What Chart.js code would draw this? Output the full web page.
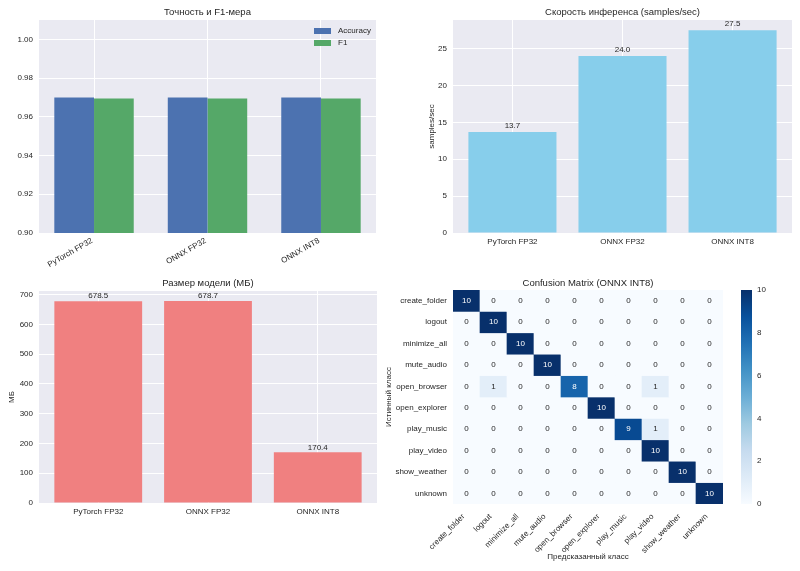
<!DOCTYPE html>
<html>
<head>
<meta charset="utf-8">
<script src="https://cdn.jsdelivr.net/npm/chart.js@4.4.1/dist/chart.umd.min.js"></script>
<style>
html,body{margin:0;padding:0;background:#fff;width:800px;height:571px;overflow:hidden;}
.box{position:absolute;}
</style>
</head>
<body>
<div class="box" style="left:0;top:0;width:400px;height:285px"><canvas id="c1"></canvas></div>
<div class="box" style="left:400px;top:0;width:400px;height:285px"><canvas id="c2"></canvas></div>
<div class="box" style="left:0;top:262px;width:400px;height:309px"><canvas id="c3"></canvas></div>
<div class="box" style="left:375px;top:262px;width:360px;height:309px"><canvas id="c4"></canvas></div>
<div class="box" style="left:736px;top:262px;width:64px;height:309px"><canvas id="c5"></canvas></div>
<script>
// ---------------- data ----------------
const models = ['PyTorch FP32', 'ONNX FP32', 'ONNX INT8'];
const accuracy = [0.970, 0.970, 0.970];
const f1 = [0.9694, 0.9694, 0.9694];
const speed = [13.7, 24.0, 27.5];
const sizeMB = [678.5, 678.7, 170.4];
const accTicks = [0.90, 0.92, 0.94, 0.96, 0.98, 1.00];
const speedTicks = [0, 5, 10, 15, 20, 25];
const sizeTicks = [0, 100, 200, 300, 400, 500, 600, 700];
const classes = ['create_folder', 'logout', 'minimize_all', 'mute_audio', 'open_browser',
                 'open_explorer', 'play_music', 'play_video', 'show_weather', 'unknown'];
const confusion = [
  [10, 0, 0, 0, 0, 0, 0, 0, 0, 0],
  [0, 10, 0, 0, 0, 0, 0, 0, 0, 0],
  [0, 0, 10, 0, 0, 0, 0, 0, 0, 0],
  [0, 0, 0, 10, 0, 0, 0, 0, 0, 0],
  [0, 1, 0, 0, 8, 0, 0, 1, 0, 0],
  [0, 0, 0, 0, 0, 10, 0, 0, 0, 0],
  [0, 0, 0, 0, 0, 0, 9, 1, 0, 0],
  [0, 0, 0, 0, 0, 0, 0, 10, 0, 0],
  [0, 0, 0, 0, 0, 0, 0, 0, 10, 0],
  [0, 0, 0, 0, 0, 0, 0, 0, 0, 10]
];
const cbarTicks = [0, 2, 4, 6, 8, 10];
const cbarRange = [0, 10];

// ---------------- style ----------------
const FONT = "'Liberation Sans', Arial, sans-serif";
const TXT = '#262626';
const BG = '#eaeaf2';
Chart.defaults.font.family = FONT;
Chart.defaults.color = TXT;
const TICK = 8, TITLE = 9.5;

const bluesStops = ['#f7fbff','#deebf7','#c6dbef','#9ecae1','#6baed6','#4292c6','#2171b5','#08519c','#08306b'];
function hex2rgb(h){return [parseInt(h.slice(1,3),16),parseInt(h.slice(3,5),16),parseInt(h.slice(5,7),16)];}
function blues(t){
  t = Math.max(0, Math.min(1, t));
  const p = t * (bluesStops.length - 1);
  const i = Math.min(Math.floor(p), bluesStops.length - 2);
  const f = p - i;
  const a = hex2rgb(bluesStops[i]), b = hex2rgb(bluesStops[i+1]);
  const c = a.map((v,k)=>Math.round(v + (b[k]-v)*f));
  return 'rgb(' + c.join(',') + ')';
}

const bgPlugin = {
  id: 'bg',
  beforeDraw(chart){
    const {ctx, chartArea:a} = chart;
    ctx.save(); ctx.fillStyle = BG;
    ctx.fillRect(a.left, a.top, a.right - a.left, a.bottom - a.top);
    ctx.restore();
  }
};

function valueLabels(gap){
  return {
    id: 'vl',
    afterDatasetsDraw(chart){
      const ctx = chart.ctx;
      const ds = chart.data.datasets[0];
      const meta = chart.getDatasetMeta(0);
      ctx.save();
      ctx.font = TICK + 'px ' + FONT;
      ctx.fillStyle = TXT; ctx.textAlign = 'center'; ctx.textBaseline = 'bottom';
      meta.data.forEach((bar, i) => {
        ctx.fillText(ds.data[i].y.toFixed(1), bar.x, bar.y - gap);
      });
      ctx.restore();
    }
  };
}

const legendPlugin = {
  id: 'inlegend',
  afterDraw(chart){
    const {ctx, chartArea:a} = chart;
    ctx.save();
    ctx.font = TICK + 'px ' + FONT;
    ctx.textBaseline = 'middle'; ctx.textAlign = 'left';
    chart.data.datasets.forEach((ds, i) => {
      const y = a.top + 11 + i * 12;
      ctx.fillStyle = ds.backgroundColor;
      ctx.fillRect(a.right - 62, y - 3, 17, 6);
      ctx.fillStyle = TXT;
      ctx.fillText(ds.label, a.right - 38, y);
    });
    ctx.restore();
  }
};

function gridOpts(){ return {color:'#ffffff', lineWidth:1, drawTicks:false, offset:false}; }
function titleOpts(text, top, bottom){
  return {display:true, text, fullSize:false, color:TXT, font:{size:TITLE, weight:'normal'}, padding:{top, bottom}};
}
const common = {
  animation:false, responsive:true, maintainAspectRatio:false,
  events: [],
};

// ---------------- chart 1 : accuracy / F1 ----------------
new Chart(document.getElementById('c1'), {
  type:'bar',
  data:{datasets:[
    {label:'Accuracy', data:accuracy.map((v,i)=>({x:i, y:v})), backgroundColor:'#4c72b0', categoryPercentage:0.7, barPercentage:1},
    {label:'F1', data:f1.map((v,i)=>({x:i, y:v})), backgroundColor:'#55a868', categoryPercentage:0.7, barPercentage:1}
  ]},
  options:Object.assign({}, common, {
    layout:{padding:{left:0, right:24, top:0, bottom:0}},
    plugins:{legend:{display:false}, tooltip:{enabled:false}, title:titleOpts('Точность и F1-мера', 6.3, 2.3)},
    scales:{
      x:{type:'linear', min:-0.485, max:2.485, offset:false,
         afterBuildTicks:s=>{s.ticks = models.map((m,i)=>({value:i}));},
         ticks:{callback:v=>models[v], minRotation:30, maxRotation:30, autoSkip:false, padding:3, labelOffset:-2, font:{size:TICK}},
         grid:gridOpts(), border:{display:false},
         afterFit:s=>{s.height = 52;}},
      y:{type:'linear', min:0.90, max:1.01,
         afterBuildTicks:s=>{s.ticks = accTicks.map(v=>({value:v}));},
         ticks:{callback:v=>v.toFixed(2), padding:6, font:{size:TICK}},
         grid:gridOpts(), border:{display:false},
         afterFit:s=>{s.width = 39;}}
    }
  }),
  plugins:[bgPlugin, legendPlugin]
});

// ---------------- chart 2 : speed ----------------
new Chart(document.getElementById('c2'), {
  type:'bar',
  data:{datasets:[
    {label:'samples/sec', data:speed.map((v,i)=>({x:i, y:v})), backgroundColor:'#87ceeb', categoryPercentage:1, barPercentage:0.8}
  ]},
  options:Object.assign({}, common, {
    layout:{padding:{left:0, right:8, top:0, bottom:0}},
    plugins:{legend:{display:false}, tooltip:{enabled:false}, title:titleOpts('Скорость инференса (samples/sec)', 6.3, 2.3)},
    scales:{
      x:{type:'linear', min:-0.54, max:2.54, offset:false,
         afterBuildTicks:s=>{s.ticks = models.map((m,i)=>({value:i}));},
         ticks:{callback:v=>models[v], minRotation:0, maxRotation:0, autoSkip:false, padding:4, font:{size:TICK}},
         grid:gridOpts(), border:{display:false},
         afterFit:s=>{s.height = 52;}},
      y:{type:'linear', min:0, max:28.875,
         afterBuildTicks:s=>{s.ticks = speedTicks.map(v=>({value:v}));},
         ticks:{callback:v=>String(v), padding:6, font:{size:TICK}},
         title:{display:true, text:'samples/sec', font:{size:TICK}, padding:{top:27.2, bottom:0}},
         grid:gridOpts(), border:{display:false},
         afterFit:s=>{s.width = 53;}}
    }
  }),
  plugins:[bgPlugin, valueLabels(2)]
});

// ---------------- chart 3 : model size ----------------
new Chart(document.getElementById('c3'), {
  type:'bar',
  data:{datasets:[
    {label:'МБ', data:sizeMB.map((v,i)=>({x:i, y:v})), backgroundColor:'#f08080', categoryPercentage:1, barPercentage:0.8}
  ]},
  options:Object.assign({}, common, {
    layout:{padding:{left:0, right:23, top:0, bottom:0}},
    plugins:{legend:{display:false}, tooltip:{enabled:false}, title:titleOpts('Размер модели (МБ)', 15.3, 2.3)},
    scales:{
      x:{type:'linear', min:-0.54, max:2.54, offset:false,
         afterBuildTicks:s=>{s.ticks = models.map((m,i)=>({value:i}));},
         ticks:{callback:v=>models[v], minRotation:0, maxRotation:0, autoSkip:false, padding:4, font:{size:TICK}},
         grid:gridOpts(), border:{display:false},
         afterFit:s=>{s.height = 68;}},
      y:{type:'linear', min:0, max:712.6,
         afterBuildTicks:s=>{s.ticks = sizeTicks.map(v=>({value:v}));},
         ticks:{callback:v=>String(v), padding:6, font:{size:TICK}},
         title:{display:true, text:'МБ', font:{size:TICK}, padding:{top:7.2, bottom:0}},
         grid:gridOpts(), border:{display:false},
         afterFit:s=>{s.width = 39;}}
    }
  }),
  plugins:[bgPlugin, valueLabels(1)]
});

// ---------------- chart 4 : confusion matrix ----------------
const annotPlugin = {
  id:'annot',
  afterDatasetsDraw(chart){
    const ctx = chart.ctx;
    ctx.save();
    ctx.font = TICK + 'px ' + FONT;
    ctx.textAlign = 'center'; ctx.textBaseline = 'middle';
    chart.data.datasets.forEach((ds, r) => {
      chart.getDatasetMeta(r).data.forEach((bar, j) => {
        const v = confusion[r][j];
        ctx.fillStyle = v >= 5 ? '#ffffff' : TXT;
        ctx.fillText(String(v), bar.x, (bar.y + bar.base) / 2);
      });
    });
    ctx.restore();
  }
};
const noGrid = {display:false, drawTicks:false};
new Chart(document.getElementById('c4'), {
  type:'bar',
  data:{datasets: classes.map((cls, r) => ({
    label: cls,
    data: classes.map((c, j) => ({x: j + 0.5, y: 1})),
    backgroundColor: confusion[r].map(v => blues((v - cbarRange[0]) / (cbarRange[1] - cbarRange[0]))),
    categoryPercentage:1, barPercentage:1, borderWidth:0, stack:'cm'
  }))},
  options:Object.assign({}, common, {
    layout:{padding:{left:0, right:12, top:0, bottom:0}},
    plugins:{legend:{display:false}, tooltip:{enabled:false}, title:titleOpts('Confusion Matrix (ONNX INT8)', 15.3, 1.3)},
    scales:{
      x:{type:'linear', min:0, max:10, offset:false, stacked:true,
         afterBuildTicks:s=>{s.ticks = classes.map((c,i)=>({value:i + 0.5}));},
         ticks:{callback:v=>classes[Math.floor(v)], minRotation:45, maxRotation:45, autoSkip:false, padding:8, labelOffset:-3, font:{size:TICK}},
         title:{display:true, text:'Предсказанный класс', font:{size:TICK}, padding:{top:0, bottom:9.2}},
         grid:noGrid, border:{display:false},
         afterFit:s=>{s.height = 67;}},
      y:{type:'linear', min:0, max:10, reverse:true, stacked:true,
         afterBuildTicks:s=>{s.ticks = classes.map((c,i)=>({value:i + 0.5}));},
         ticks:{callback:v=>classes[Math.floor(v)], padding:6, autoSkip:false, font:{size:TICK}},
         title:{display:true, text:'Истинный класс', font:{size:TICK}, padding:{top:9.2, bottom:0}},
         grid:noGrid, border:{display:false},
         afterFit:s=>{s.width = 78;}}
    }
  }),
  plugins:[annotPlugin]
});

// ---------------- chart 5 : colorbar ----------------
new Chart(document.getElementById('c5'), {
  type:'bar',
  data:{labels:[''], datasets:[{
    label:'colorbar',
    data:[cbarRange],
    backgroundColor:(c) => {
      const a = c.chart.chartArea;
      if (!a) return bluesStops[0];
      const g = c.chart.ctx.createLinearGradient(0, a.bottom, 0, a.top);
      bluesStops.forEach((s, i) => g.addColorStop(i / (bluesStops.length - 1), s));
      return g;
    },
    categoryPercentage:1, barPercentage:1, borderWidth:0
  }]},
  options:Object.assign({}, common, {
    layout:{padding:{left:5, right:0, top:28, bottom:67}},
    plugins:{legend:{display:false}, tooltip:{enabled:false}},
    scales:{
      x:{type:'category', display:false, offset:true},
      y:{type:'linear', position:'right', min:cbarRange[0], max:cbarRange[1],
         afterBuildTicks:s=>{s.ticks = cbarTicks.map(v=>({value:v}));},
         ticks:{callback:v=>String(v), padding:5, font:{size:TICK}},
         grid:noGrid, border:{display:false},
         afterFit:s=>{s.width = 48;}}
    }
  })
});
</script>
</body>
</html>
